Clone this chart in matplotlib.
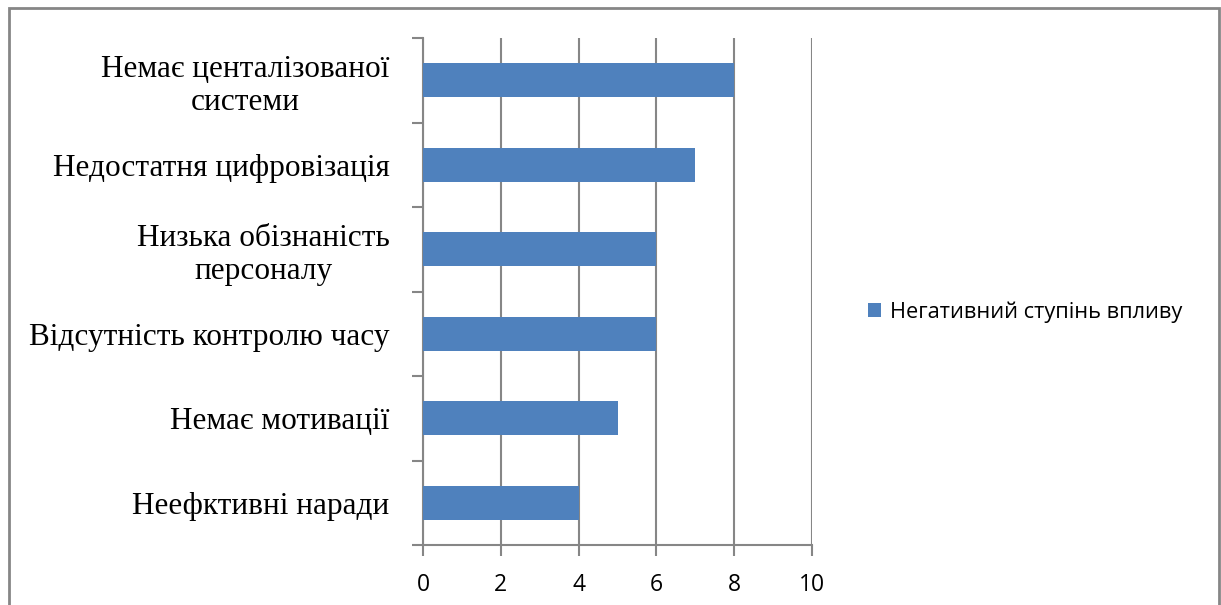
import matplotlib
matplotlib.use("Agg")
import matplotlib.pyplot as plt
from matplotlib.patches import Rectangle

categories = ["Немає центалізованої\nсистеми", "Недостатня цифровізація",
              "Низька обізнаність\nперсоналу", "Відсутність контролю часу",
              "Немає мотивації", "Неефктивні наради"]
values = [8, 7, 6, 6, 5, 4]
series_name = "Негативний ступінь впливу"
xticks = [0, 2, 4, 6, 8, 10]

W, H = 1221, 605
fig = plt.figure(figsize=(W/100, H/100), dpi=100)
ax = fig.add_axes([423/W, 1-545/H, (812-423)/W, (545-38)/H])

n = len(categories)
ypos = list(range(n))[::-1]
bars = ax.barh(ypos, values, height=0.4, color="#4F81BD", label=series_name, zorder=3)
ax.set_ylim(-0.5, n-0.5)
ax.set_xlim(0, 10)
ax.set_xticks(xticks)
ax.set_xticklabels([str(t) for t in xticks], fontsize=16.5, family="Open Sans")
ax.set_yticks([i-0.5 for i in range(n+1)])
ax.set_yticklabels([])
ax.set_yticks(ypos, minor=True)
ax.set_yticklabels(categories, minor=True, fontsize=22.5, family="Liberation Serif",
                   multialignment="center", linespacing=1.2)
ax.tick_params(axis="y", which="minor", length=0, pad=24)
ax.tick_params(axis="y", which="major", length=8, width=1.5, color="#868686", direction="out")
ax.tick_params(axis="x", length=8, width=1.5, color="#868686", direction="out", pad=12)
ax.grid(axis="x", color="#868686", linewidth=1.5, zorder=0)
for s in ["top", "right"]:
    ax.spines[s].set_visible(False)
for s in ["left", "bottom"]:
    ax.spines[s].set_color("#868686")
    ax.spines[s].set_linewidth(1.5)

leg = fig.legend(handles=[bars], labels=[series_name], loc="center left",
                 bbox_to_anchor=(868/W, 1-312/H), frameon=False,
                 borderaxespad=0, borderpad=0,
                 prop={"family": "Open Sans", "size": 15.7},
                 handlelength=0.6, handleheight=0.6, handletextpad=0.4)

fig.patches.append(Rectangle((9/W, -0.05), (1219-9)/W, 1.05-8/H, transform=fig.transFigure,
                             fill=False, edgecolor="#868686", linewidth=2))
fig.savefig("out.png", dpi=100)
